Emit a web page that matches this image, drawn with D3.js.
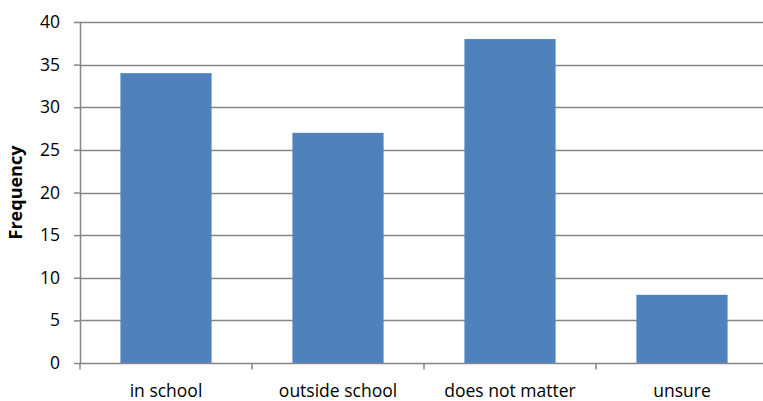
<!DOCTYPE html>
<html>
<head>
<meta charset="utf-8">
<script src="https://cdn.jsdelivr.net/npm/d3@7"></script>
<style>
  html, body { margin: 0; padding: 0; background: #fff; }
  svg { display: block; }
  text { font-family: "Open Sans", "Noto Sans", sans-serif; fill: #000; }
</style>
</head>
<body>
<svg id="chart" width="763" height="401"></svg>
<script>
// Survey responses: where the activity should take place
const categories = ["in school", "outside school", "does not matter", "unsure"];
const frequencies = [34, 27, 38, 8];
const yTicks = [0, 5, 10, 15, 20, 25, 30, 35, 40];

const svg = d3.select("#chart");
const margin = { left: 80, right: -5, top: 22, bottom: 38 };
const W = 763, H = 401;
const plotRight = W - margin.right;
const plotBottom = H - margin.bottom;

const x = d3.scaleBand()
  .domain(categories)
  .range([margin.left, plotRight])
  .paddingInner(0.47)
  .paddingOuter(0.235);

const y = d3.scaleLinear()
  .domain([0, 40])
  .range([plotBottom, margin.top]);

const gridColor = "#868686";

// horizontal gridlines
svg.append("g")
  .selectAll("line")
  .data(yTicks.filter(d => d > 0))
  .join("line")
  .attr("x1", margin.left)
  .attr("x2", plotRight)
  .attr("y1", d => Math.round(y(d)) + 0.5)
  .attr("y2", d => Math.round(y(d)) + 0.5)
  .attr("stroke", gridColor)
  .attr("stroke-width", 1.5);

// bars
svg.append("g")
  .selectAll("rect")
  .data(categories)
  .join("rect")
  .attr("x", d => x(d))
  .attr("width", x.bandwidth())
  .attr("y", (d, i) => y(frequencies[i]))
  .attr("height", (d, i) => y(0) - y(frequencies[i]))
  .attr("fill", "#4F81BD");

// y axis
const yAxis = svg.append("g")
  .attr("transform", `translate(${margin.left},0)`)
  .call(d3.axisLeft(y).tickValues(yTicks).tickSize(6).tickPadding(14).tickSizeOuter(0));
yAxis.select(".domain").attr("stroke", gridColor).attr("stroke-width", 1.5);
yAxis.selectAll(".tick line").attr("stroke", gridColor).attr("stroke-width", 1.5);
yAxis.selectAll(".tick text").style("font-size", "17.5px").attr("fill", "#000");

// x axis with ticks between categories
const xAxisG = svg.append("g")
  .attr("transform", `translate(0,${Math.round(y(0)) + 0.5})`);
xAxisG.append("line")
  .attr("x1", margin.left).attr("x2", plotRight)
  .attr("stroke", gridColor).attr("stroke-width", 1.5);
const boundaries = d3.range(categories.length + 1).map(i => margin.left + i * (plotRight - margin.left) / categories.length);
xAxisG.selectAll("line.sep")
  .data(boundaries)
  .join("line")
  .attr("class", "sep")
  .attr("x1", d => d).attr("x2", d => d)
  .attr("y1", 0).attr("y2", 6)
  .attr("stroke", gridColor).attr("stroke-width", 1.5);
xAxisG.selectAll("text")
  .data(categories)
  .join("text")
  .attr("x", d => x(d) + x.bandwidth() / 2)
  .attr("y", 33)
  .attr("text-anchor", "middle")
  .style("font-size", "17.5px")
  .text(d => d);

// y axis title
svg.append("text")
  .attr("transform", `translate(22,${(margin.top + plotBottom) / 2}) rotate(-90)`)
  .attr("text-anchor", "middle")
  .style("font-size", "18px")
  .style("font-weight", "bold")
  .text("Frequency");
</script>
</body>
</html>
